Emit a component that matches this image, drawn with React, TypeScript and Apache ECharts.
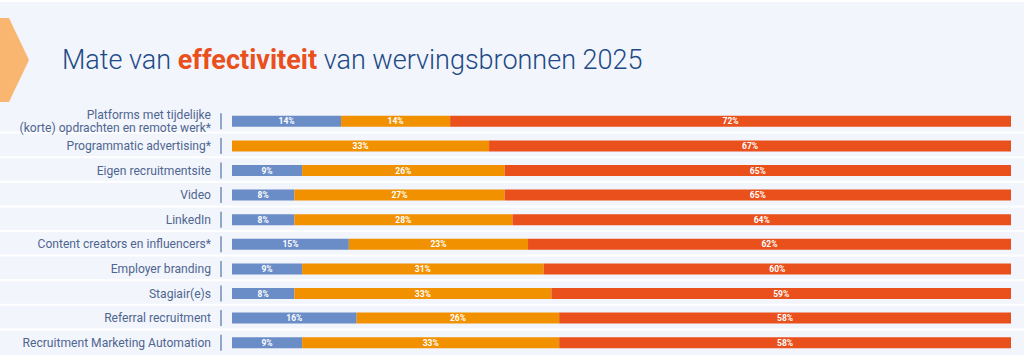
import React, { useEffect, useRef } from "react";
import * as echarts from "echarts";

const categories = [
  "Platforms met tijdelijke\n(korte) opdrachten en remote werk*",
  "Programmatic advertising*",
  "Eigen recruitmentsite",
  "Video",
  "LinkedIn",
  "Content creators en influencers*",
  "Employer branding",
  "Stagiair(e)s",
  "Referral recruitment",
  "Recruitment Marketing Automation",
];
const lowValues = [14, 0, 9, 8, 8, 15, 9, 8, 16, 9];
const midValues = [14, 33, 26, 27, 28, 23, 31, 33, 26, 33];
const highValues = [72, 67, 65, 65, 64, 62, 60, 59, 58, 58];
const seriesNames = ["Laag", "Gemiddeld", "Hoog"];

export default function App() {
  const ref = useRef<HTMLDivElement>(null);
  useEffect(() => {
    if (!ref.current) return;
    const chart = echarts.init(ref.current, null, { renderer: "svg" });
    const barLabel = {
      show: true,
      position: "inside",
      color: "#ffffff",
      fontSize: 8.5,
      fontWeight: "bold",
      fontFamily: "Roboto",
      formatter: (p: any) => (p.value > 0 ? p.value + "%" : ""),
    };
    const colors = ["#6a8cc7", "#f29100", "#e9501c"];
    const mk = (name: string, data: number[], i: number) => ({
      name,
      type: "bar",
      stack: "total",
      barWidth: 11,
      data,
      label: barLabel,
      itemStyle: { color: colors[i] },
      emphasis: { disabled: true },
    });
    chart.setOption({
      animation: false,
      backgroundColor: "#f2f5fc",
      textStyle: { fontFamily: "Roboto" },
      title: {
        left: 57,
        top: 41,
        text: "{n|Mate van }{b|effectiviteit}{n| van wervingsbronnen 2025}",
        textStyle: {
          rich: {
            n: { fontSize: 27, fontWeight: 300, color: "#1d4a86", fontFamily: "Roboto" },
            b: { fontSize: 27, fontWeight: "bold", color: "#e9501c", fontFamily: "Roboto" },
          },
        },
      },
      graphic: [
        { type: "rect", shape: { x: 0, y: 0, width: 1024, height: 2 }, style: { fill: "#ffffff" } },
        {
          type: "polygon",
          shape: { points: [[0, 18], [9, 18], [29, 60], [9, 102], [0, 102]] },
          style: { fill: "#f9b670" },
        },
      ],
      grid: { left: 232, right: 13, top: 109, height: 248 },
      xAxis: {
        type: "value",
        min: 0,
        max: 100,
        show: false,
      },
      yAxis: {
        type: "category",
        inverse: true,
        data: categories,
        axisLine: { show: false },
        axisTick: { show: false },
        splitLine: { show: false },
        axisLabel: {
          margin: 21,
          fontSize: 12.1,
          lineHeight: 12.5,
          color: "#4f6690",
          fontFamily: "Roboto",
        },
      },
      series: [
        {
          type: "custom",
          silent: true,
          z: 0,
          clip: false,
          data: categories.map((_, i) => [0, i]),
          encode: { x: 0, y: 1 },
          renderItem: (params: any, api: any) => {
            const p = api.coord([0, api.value(1)]);
            const h = api.size([0, 1])[1];
            const children: any[] = [
              {
                type: "line",
                shape: { x1: p[0] - 11, y1: p[1] - 8, x2: p[0] - 11, y2: p[1] + 8 },
                style: { stroke: "#5b7bb0", lineWidth: 1.3 },
              },
            ];
            if (api.value(1) < categories.length - 1) {
              children.push({
                type: "line",
                shape: { x1: 0, y1: p[1] + h / 2 - 1, x2: api.getWidth(), y2: p[1] + h / 2 - 1 },
                style: { stroke: "#ffffff", lineWidth: 2 },
              });
            }
            return { type: "group", children };
          },
        },
        mk(seriesNames[0], lowValues, 0),
        mk(seriesNames[1], midValues, 1),
        mk(seriesNames[2], highValues, 2),
      ],
    });
    return () => chart.dispose();
  }, []);
  return (
    <div
      ref={ref}
      style={{ position: "fixed", left: 0, top: 0, width: 1024, height: 355 }}
    />
  );
}
